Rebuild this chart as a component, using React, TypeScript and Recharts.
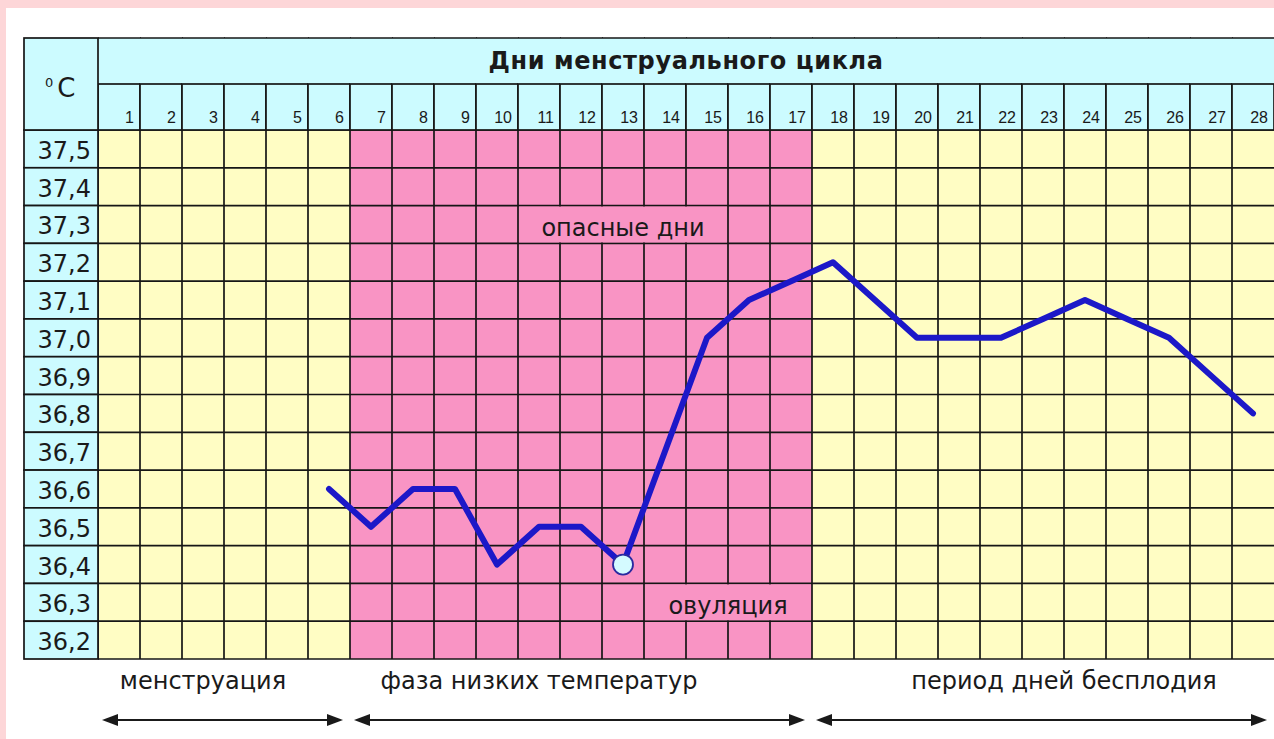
import React from 'react';
import { ComposedChart, Line, XAxis, YAxis, ReferenceArea, ReferenceLine } from 'recharts';

// ---------- data ----------
const days = [1, 2, 3, 4, 5, 6, 7, 8, 9, 10, 11, 12, 13, 14, 15, 16, 17, 18, 19, 20, 21, 22, 23, 24, 25, 26, 27, 28];
const temperatures: (number | null)[] = [
  null, null, null, null, null, 36.6, 36.5, 36.6, 36.6, 36.4, 36.5, 36.5, 36.4, 36.7,
  37.0, 37.1, 37.15, 37.2, 37.1, 37.0, 37.0, 37.0, 37.05, 37.1, 37.05, 37.0, 36.9, 36.8,
];
const tempTicks = [37.5, 37.4, 37.3, 37.2, 37.1, 37.0, 36.9, 36.8, 36.7, 36.6, 36.5, 36.4, 36.3, 36.2];
const tempTickLabels = ['37,5', '37,4', '37,3', '37,2', '37,1', '37,0', '36,9', '36,8', '36,7', '36,6', '36,5', '36,4', '36,3', '36,2'];
const ovulationDay = 13;
const title = 'Дни менструального цикла';
const unitSup = '0';
const unitMain = 'C';

const phaseLabels = ['менструация', 'фаза низких температур', 'период дней бесплодия'];
const phaseFrom = [1, 7, 18];
const phaseTo = [6, 17, 28];
const phaseKinds = ['safe', 'fertile', 'safe'];

const noteTexts = ['опасные дни', 'овуляция'];
const noteFrom = [11, 14];
const noteTo = [15, 17];
const noteTemp = [37.3, 36.3];

const data = days.map((d, i) => ({ day: d, temp: temperatures[i] }));

// ---------- layout / style ----------
const W = 1274;
const H = 739;
const MARGIN = { top: 38, right: 0, bottom: 80, left: 24 };
const Y_AXIS_W = 74;
const HEADER_H = 92;
const PLOT_LEFT = MARGIN.left + Y_AXIS_W;
const PLOT_TOP = MARGIN.top + HEADER_H;
const PLOT_W = W - PLOT_LEFT - MARGIN.right;
const PLOT_H = H - PLOT_TOP - MARGIN.bottom;
const COL_W = PLOT_W / days.length;
const ROW_H = PLOT_H / tempTicks.length;
const HEADER_MID = 84;
const phaseLabelAt = [3, 11, 23.5];

const FONT = '"DejaVu Sans", "Liberation Sans", Arial, sans-serif';
const NUM_FONT = '"Liberation Sans", Arial, sans-serif';
const CYAN = '#CCFBFF';
const YELLOW = '#FFFDC4';
const PINK = '#F994C4';
const PAGE_PINK = '#FDD6D8';
const GRID = '#161616';
const BLUE = '#1C18C8';
const TEXT = '#1a1a1a';
const GW = 1.7;
const kindFill: Record<string, string> = { safe: YELLOW, fertile: PINK };

const half = 0.05;
const yMin = tempTicks[tempTicks.length - 1] - half;
const yMax = tempTicks[0] + half;
const colBoundaries = days.map((d) => d - 0.5);
const rowBoundaries = [...tempTicks.map((t) => +(t - half).toFixed(2)), yMax];

// ---------- renderers ----------
const DayTick = (props: any) => {
  const { x, payload, index } = props;
  const l = x - COL_W / 2;
  const r = x + COL_W / 2;
  const isLast = index === days.length - 1;
  return (
    <g>
      <rect x={l} y={MARGIN.top} width={COL_W} height={HEADER_MID - MARGIN.top} fill={CYAN} />
      <rect x={l} y={HEADER_MID} width={COL_W} height={PLOT_TOP - HEADER_MID} fill={CYAN} stroke={GRID} strokeWidth={GW} />
      <line x1={l} x2={r + 1} y1={MARGIN.top} y2={MARGIN.top} stroke={GRID} strokeWidth={GW} />
      <text x={r - 6} y={123} textAnchor="end" fontFamily={NUM_FONT} fontSize={16} fill={TEXT}>
        {payload.value}
      </text>
      {isLast && (
        <text
          x={PLOT_LEFT + PLOT_W / 2}
          y={69}
          textAnchor="middle"
          fontFamily={FONT}
          fontWeight="bold"
          fontSize={24}
          letterSpacing={0.6}
          fill={TEXT}
        >
          {title}
        </text>
      )}
    </g>
  );
};

const TempTick = (props: any) => {
  const { y, index } = props;
  return (
    <g>
      <rect x={MARGIN.left} y={y - ROW_H / 2} width={Y_AXIS_W} height={ROW_H} fill={CYAN} stroke={GRID} strokeWidth={GW} />
      <text x={PLOT_LEFT - 7} y={y + 10} textAnchor="end" fontFamily={FONT} fontSize={24} fill={TEXT}>
        {tempTickLabels[index]}
      </text>
      {index === 0 && (
        <g>
          <rect x={MARGIN.left} y={MARGIN.top} width={Y_AXIS_W} height={HEADER_H} fill={CYAN} stroke={GRID} strokeWidth={GW} />
          <text x={45} y={97} fontFamily={FONT} fontSize={26} fill={TEXT}>
            <tspan fontSize={13} dy={-10}>{unitSup}</tspan>
            <tspan dx={4} dy={10}>{unitMain}</tspan>
          </text>
        </g>
      )}
    </g>
  );
};

const Arrow = ({ x1, x2, y }: { x1: number; x2: number; y: number }) => (
  <g>
    <line x1={x1 + 8} x2={x2 - 8} y1={y} y2={y} stroke={TEXT} strokeWidth={2} />
    <polygon points={`${x1},${y} ${x1 + 16},${y - 6} ${x1 + 16},${y + 6}`} fill={TEXT} />
    <polygon points={`${x2},${y} ${x2 - 16},${y - 6} ${x2 - 16},${y + 6}`} fill={TEXT} />
  </g>
);

const makePhaseShape = (i: number) => (p: any) => {
  const { x, y, width, height } = p;
  const colW = width / (phaseTo[i] - phaseFrom[i] + 1);
  const cx = x + (phaseLabelAt[i] - (phaseFrom[i] - 0.5)) * colW;
  const bottom = y + height;
  return (
    <g>
      <rect x={x} y={y} width={width} height={height} fill={kindFill[phaseKinds[i]]} />
      <text x={cx} y={bottom + 30} textAnchor="middle" fontFamily={FONT} fontSize={24} fill={TEXT}>
        {phaseLabels[i]}
      </text>
      <Arrow x1={x + 4} x2={x + width - 7} y={bottom + 61} />
    </g>
  );
};

const makeNoteShape = (i: number) => (p: any) => {
  const { x, y, width, height } = p;
  return (
    <g>
      <rect x={x + 1} y={y + 1} width={width - 2} height={height - 2} fill={PINK} />
      <text x={x + width / 2} y={y + height - 7} textAnchor="middle" fontFamily={FONT} fontSize={24} fill={TEXT}>
        {noteTexts[i]}
      </text>
    </g>
  );
};

const renderDot = (p: any) => {
  const k = `dot-${p.index}`;
  if (p.payload && p.payload.day === ovulationDay && p.cx != null && p.cy != null) {
    return <circle key={k} cx={p.cx} cy={p.cy} r={10} fill="#D4FAFF" stroke="#2a2aa0" strokeWidth={1.8} />;
  }
  return <g key={k} />;
};

export default function App() {
  return (
    <div style={{ position: 'absolute', left: 0, top: 0, width: W, height: H, background: PAGE_PINK, overflow: 'hidden' }}>
      <div style={{ position: 'absolute', left: 6, top: 8, right: 0, bottom: 0, background: '#ffffff' }} />
      <div style={{ position: 'absolute', left: 0, top: 0 }}>
        <ComposedChart width={W} height={H} data={data} margin={MARGIN}>
          <XAxis
            type="number"
            dataKey="day"
            domain={[0.5, 28.5]}
            ticks={days}
            interval={0}
            orientation="top"
            height={HEADER_H}
            axisLine={false}
            tickLine={false}
            tick={<DayTick />}
            allowDataOverflow
          />
          <YAxis
            type="number"
            domain={[yMin, yMax]}
            ticks={tempTicks}
            interval={0}
            width={Y_AXIS_W}
            axisLine={false}
            tickLine={false}
            tick={<TempTick />}
            allowDataOverflow
          />
          {phaseLabels.map((_, i) => (
            <ReferenceArea
              key={`phase-${i}`}
              x1={phaseFrom[i] - 0.5}
              x2={phaseTo[i] + 0.5}
              y1={yMin}
              y2={yMax}
              shape={makePhaseShape(i)}
              ifOverflow="visible"
              zIndex={-90}
            />
          ))}
          {colBoundaries.map((b) => (
            <ReferenceLine key={`vx-${b}`} x={b} stroke={GRID} strokeWidth={GW} ifOverflow="visible" zIndex={-80} />
          ))}
          {rowBoundaries.map((b) => (
            <ReferenceLine key={`hy-${b}`} y={b} stroke={GRID} strokeWidth={GW} ifOverflow="visible" zIndex={-80} />
          ))}
          {noteTexts.map((_, i) => (
            <ReferenceArea
              key={`note-${i}`}
              x1={noteFrom[i] - 0.5}
              x2={noteTo[i] + 0.5}
              y1={+(noteTemp[i] - half).toFixed(2)}
              y2={+(noteTemp[i] + half).toFixed(2)}
              shape={makeNoteShape(i)}
              ifOverflow="visible"
              zIndex={-70}
            />
          ))}
          <Line
            type="linear"
            dataKey="temp"
            stroke={BLUE}
            strokeWidth={6}
            strokeLinejoin="round"
            strokeLinecap="round"
            dot={renderDot}
            activeDot={false}
            connectNulls={false}
            isAnimationActive={false}
          />
        </ComposedChart>
      </div>
    </div>
  );
}
